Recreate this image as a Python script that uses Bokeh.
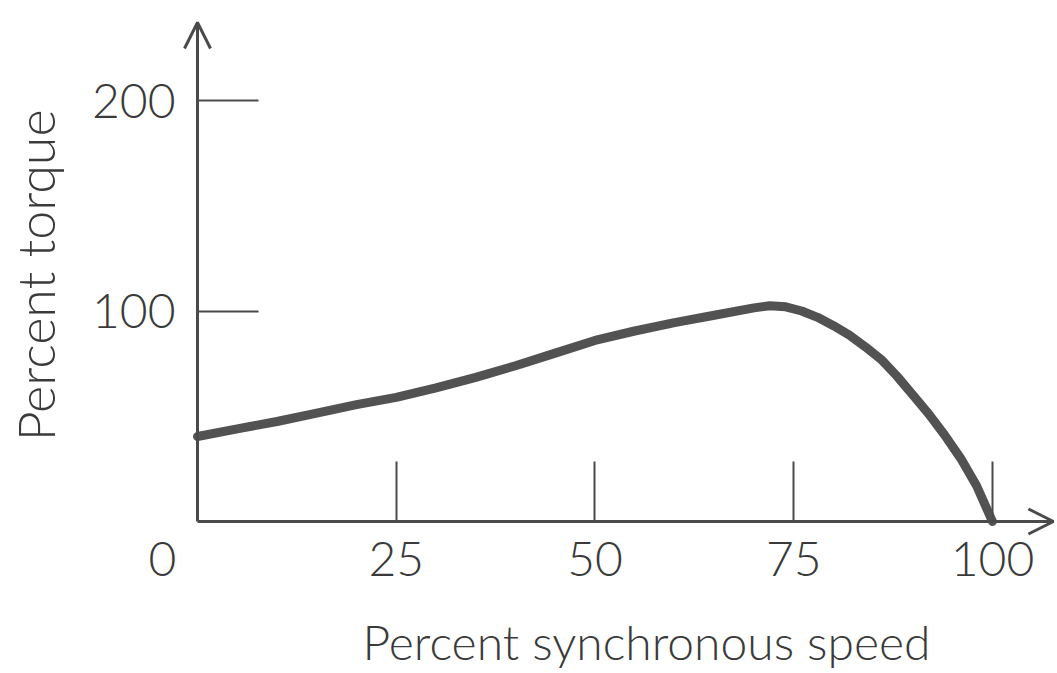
import math
from bokeh.plotting import figure
from bokeh.models import Range1d, FixedTicker, Arrow, OpenHead, Label
from bokeh.embed import file_html
from bokeh.resources import INLINE

# ---- data ----
speed = [0, 5, 10, 15, 20, 25, 30, 35, 40, 45, 50, 55, 60, 65, 70, 72, 74,
         76, 78, 80, 82, 84, 86, 88, 90, 92, 94, 96, 98, 100]
torque = [40.4, 44, 47.5, 51.5, 55.5, 59, 63.5, 68.5, 74, 80, 86, 90.5, 94.5,
          98, 101.5, 102.5, 102, 100, 97, 93, 88.5, 83, 77, 69, 60, 51, 41,
          30, 17, 0]
x_ticks = [25, 50, 75, 100]
y_ticks = [100, 200]
origin_label = "0"
x_title = "Percent synchronous speed"
y_title = "Percent torque"

FONT = "Lato Light"
INK = "#4a4a4a"
TEXT = "#3a3a3a"

W, H = 1057, 673
# plot area = whole canvas; axes are pinned at the origin (fixed_location)
X_START, X_END, X_TIP = -24.78, 108.18, 107.67
Y_START, Y_END, Y_TIP = -72.21, 247.51, 237.05

p = figure(width=W, height=H, output_backend="svg", toolbar_location=None,
           x_range=Range1d(X_START, X_END), y_range=Range1d(Y_START, Y_END),
           min_border_left=0, min_border_right=0, min_border_top=0,
           min_border_bottom=0)
p.grid.visible = False
p.outline_line_color = None
p.background_fill_color = "white"
p.border_fill_color = "white"

for ax in (p.xaxis[0], p.yaxis[0]):
    ax.fixed_location = 0
    ax.axis_line_width = 3
    ax.axis_line_color = INK
    ax.major_tick_out = 0
    ax.major_tick_line_width = 2
    ax.major_tick_line_color = INK
    ax.minor_tick_line_color = None
    ax.major_label_text_font = FONT
    ax.major_label_text_font_size = "48px"
    ax.major_label_text_color = TEXT

p.xaxis.bounds = (0, X_TIP)
p.xaxis.ticker = FixedTicker(ticks=x_ticks)
p.xaxis.major_tick_in = 60
p.xaxis.major_label_standoff = 20

p.yaxis.bounds = (0, Y_TIP)
p.yaxis.ticker = FixedTicker(ticks=y_ticks)
p.yaxis.major_tick_in = 61
p.yaxis.major_label_standoff = 22

p.line(speed, torque, line_width=9, line_color="#525252",
       line_cap="round", line_join="round")

# shared origin label, left of the y axis
p.add_layout(Label(x=0, y=0, x_offset=-35, y_offset=-20, text=origin_label,
                   text_align="center", text_baseline="top",
                   text_font=FONT, text_font_size="48px", text_color=TEXT))
p.add_layout(Label(x=56.48, y=-56.9, text=x_title,
                   text_align="center", text_baseline="alphabetic",
                   text_font=FONT, text_font_size="48px", text_color=TEXT))
p.add_layout(Label(x=-20.5, y=116.9, angle=math.pi / 2, text=y_title,
                   text_align="center", text_baseline="middle",
                   text_font=FONT, text_font_size="52px", text_color=TEXT))

p.add_layout(Arrow(end=OpenHead(size=26, line_width=3, line_color=INK),
                   x_start=0, y_start=200, x_end=0, y_end=Y_TIP,
                   line_width=3, line_color=INK))
p.add_layout(Arrow(end=OpenHead(size=25, line_width=3, line_color=INK),
                   x_start=100, y_start=0, x_end=X_TIP, y_end=0,
                   line_width=3, line_color=INK))

open("out.html", "w").write(file_html(p, INLINE))
